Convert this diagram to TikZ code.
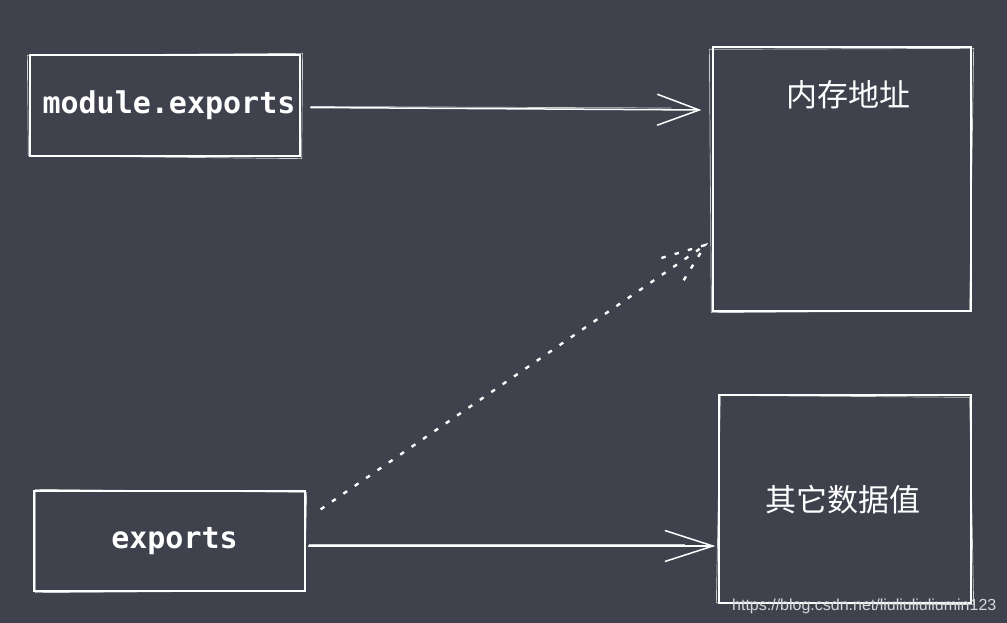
\documentclass[tikz,border=0pt]{standalone}
\usepackage{fontspec}
\newfontfamily\monof{DejaVu Sans Mono}
\newfontfamily\cjkf{Noto Sans CJK SC}
\newfontfamily\wmf{Liberation Sans}
\usetikzlibrary{arrows.meta,calc}
\definecolor{bgc}{RGB}{63,65,77}
\definecolor{wmc}{RGB}{215,215,220}
\tikzset{
  x=1pt, y=-1pt,
  sk/.style={draw=white, line width=1.3pt, rectangle, inner sep=0pt},
  sk2/.style={draw=white, line width=0.7pt, opacity=0.75},
  mono/.style={text=white, font=\monof\bfseries\fontsize{30}{30}\selectfont},
  cjk/.style={text=white, font=\cjkf\fontsize{31}{31}\selectfont},
  conn/.style={draw=white, line width=1.5pt, line cap=round},
  tipA/.style={-{Straight Barb[length=42pt, width=31pt, line width=1.5pt]}},
  dots/.style={draw=white, line width=2.4pt, dash pattern=on 4.5pt off 9.3pt},
}
\begin{document}
\begin{tikzpicture}
\fill[bgc] (0,0) rectangle (1007,623);
\useasboundingbox (0,0) rectangle (1007,623);

% boxes
\node[sk, minimum width=270pt, minimum height=101pt, mono] (me) at (165,105.5) {\hspace*{8pt}\raisebox{-2pt}{module.exports}};
\node[sk, minimum width=271pt, minimum height=100pt, mono] (ex) at (169.5,541) {\hspace*{10pt}\raisebox{-2pt}{exports}};
\node[sk, minimum width=258pt, minimum height=264pt] (mem) at (842,179) {};
\node[sk, minimum width=252pt, minimum height=208pt] (oth) at (845,499) {};
\node[cjk] (memt) at (848,95) {内存地址};
\node[cjk] (otht) at (843,500) {其它数据值};

% sketchy second strokes
\draw[sk2] ([shift={(-2,1)}]me.north west) -- ([shift={(2,-1)}]me.north east) -- ([shift={(1,2)}]me.south east) -- ([shift={(-1,-1)}]me.south west) -- cycle;
\draw[sk2] ([shift={(2,-1)}]ex.north west) -- ([shift={(1,2)}]ex.north east) -- ([shift={(-1,-1)}]ex.south east) -- ([shift={(2,1)}]ex.south west) -- cycle;
\draw[sk2] ([shift={(-3,3)}]mem.north west) -- ([shift={(2,2)}]mem.north east) -- ([shift={(-2,-1)}]mem.south east) -- ([shift={(-1,1)}]mem.south west) -- cycle;
\draw[sk2] ([shift={(2,1)}]oth.north west) -- ([shift={(-2,3)}]oth.north east) -- ([shift={(2,1)}]oth.south east) -- ([shift={(-2,-1)}]oth.south west) -- cycle;

% connectors
\coordinate (a1s) at ([shift={(10,2)}]me.east);
\coordinate (a1e) at ([shift={(-11,-69)}]mem.west);
\draw[conn, tipA] (a1s) -- (a1e);
\draw[sk2] ([shift={(0,-1)}]a1s) -- ([shift={(-30,-2)}]a1e);

\coordinate (a2s) at ([shift={(3,5)}]ex.east);
\coordinate (a2e) at ([shift={(-3,47)}]oth.west);
\draw[conn, -{Straight Barb[length=48pt, width=31pt, line width=1.5pt]}] (a2s) -- (a2e);
\draw[sk2] ([shift={(0,-2)}]a2s) -- ([shift={(-30,-2)}]a2e);

\coordinate (ds) at ([shift={(15,19)}]ex.north east);
\coordinate (de) at ([shift={(-7,66)}]mem.west);
\draw[dots] (ds) -- (de);
\draw[dots] ($(de)+(-44,13)$) -- (de) -- ($(de)+(-24,39)$);

% watermark
\node[anchor=base west, inner sep=0pt, text=wmc, font=\wmf\fontsize{16}{16}\selectfont] (wm) at (732,610) {https://blog.csdn.net/liuliuliuliumin123};
\end{tikzpicture}
\end{document}
